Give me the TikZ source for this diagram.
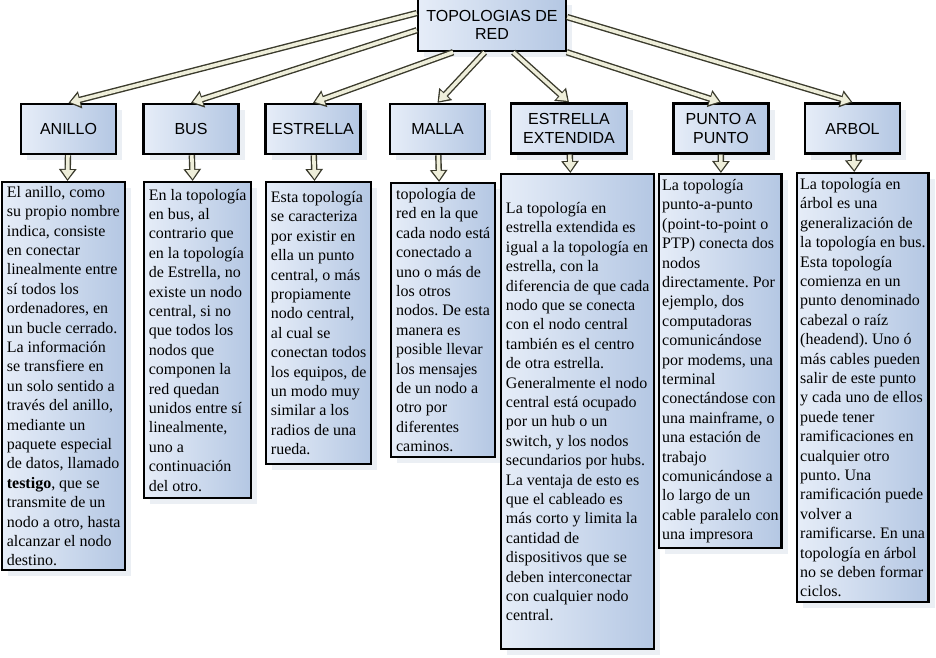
\documentclass[tikz,border=0pt]{standalone}
\usepackage{fontspec}
\setmainfont{Liberation Serif}
\setsansfont{Liberation Sans}
\usetikzlibrary{arrows.meta,shadows}

\definecolor{boxlight}{RGB}{230,237,248}
\definecolor{boxdark}{RGB}{180,199,227}
\definecolor{arrowline}{RGB}{58,58,44}
\definecolor{arrowfill}{RGB}{238,238,218}
\definecolor{shadowc}{RGB}{216,223,234}
\frenchspacing

\begin{document}
\begin{tikzpicture}[x=1pt,y=-1pt,
      box/.style={draw=black,line width=2.4pt,left color=boxlight,right color=boxdark,
            drop shadow={shadow xshift=6pt,shadow yshift=-6pt,fill=shadowc}},
      topic/.style={box,font=\sffamily\fontsize{16}{18.5}\selectfont,align=center,
            minimum width=95pt,minimum height=50pt,inner sep=2pt},
      desc/.style={box,anchor=north west,align=left,inner xsep=3pt,inner ysep=2pt,
            font=\fontsize{16}{19.4}\selectfont},
      conn/.style={line width=3.6pt,draw=arrowfill,shorten >=2pt,
            -{Triangle[length=9pt,width=12pt]},
            preaction={draw=arrowline,line width=6.4pt,shorten >=0pt,
                  -{Triangle[length=12pt,width=17pt]}}}
]
\useasboundingbox (0,0) rectangle (936,657);
\node[topic,minimum width=148pt,minimum height=52pt] (top) at (492,25) {TOPOLOGIAS DE\\RED};
\node[topic] (anillo) at (68.5,129) {ANILLO};
\node[topic] (bus) at (191,129) {BUS};
\node[topic] (estrella) at (313,129) {ESTRELLA};
\node[topic] (malla) at (437.5,129) {MALLA};
\node[topic,minimum width=116pt] (ext) at (569,128.5) {ESTRELLA\\EXTENDIDA};
\node[topic] (punto) at (721,128.5) {PUNTO A\\PUNTO};
\node[topic] (arbol) at (852.5,128.5) {ARBOL};
\node[desc,minimum width=123pt,minimum height=388pt] (d1) at (1,181) {El anillo, como\\su propio nombre\\indica, consiste\\en conectar\\linealmente entre\\sí todos los\\ordenadores, en\\un bucle cerrado.\\La información\\se transfiere en\\un solo sentido a\\través del anillo,\\mediante un\\paquete especial\\de datos, llamado\\\textbf{testigo}, que se\\transmite de un\\nodo a otro, hasta\\alcanzar el nodo\\destino.};
\node[desc,minimum width=107pt,minimum height=316pt] (d2) at (143,181) {En la topología\\en bus, al\\contrario que\\en la topología\\de Estrella, no\\existe un nodo\\central, si no\\que todos los\\nodos que\\componen la\\red quedan\\unidos entre sí\\linealmente,\\uno a\\continuación\\del otro.};
\node[desc,minimum width=105pt,minimum height=282pt] (d3) at (265,181) {Esta topología\\se caracteriza\\por existir en\\ella un punto\\central, o más\\propiamente\\nodo central,\\al cual se\\conectan todos\\los equipos, de\\un modo muy\\similar a los\\radios de una\\rueda.};
\node[desc,minimum width=104pt,minimum height=274pt] (d4) at (390,182) {topología de\\red en la que\\cada nodo está\\conectado a\\uno o más de\\los otros\\nodos. De esta\\manera es\\posible llevar\\los mensajes\\de un nodo a\\otro por\\diferentes\\caminos.};
\node[desc,minimum width=153pt,minimum height=475pt] (d5) at (500,173) {La topología en\\estrella extendida es\\igual a la topología en\\estrella, con la\\diferencia de que cada\\nodo que se conecta\\con el nodo central\\también es el centro\\de otra estrella.\\Generalmente el nodo\\central está ocupado\\por un hub o un\\switch, y los nodos\\secundarios por hubs.\\La ventaja de esto es\\que el cableado es\\más corto y limita la\\cantidad de\\dispositivos que se\\deben interconectar\\con cualquier nodo\\central.};
\node[desc,minimum width=122pt,minimum height=374pt] (d6) at (658,173) {La topología\\punto-a-punto\\(point-to-point o\\PTP) conecta dos\\nodos\\directamente. Por\\ejemplo, dos\\computadoras\\comunicándose\\por modems, una\\terminal\\conectándose con\\una mainframe, o\\una estación de\\trabajo\\comunicándose a\\lo largo de un\\cable paralelo con\\una impresora};
\node[desc,minimum width=130pt,minimum height=429pt] (d7) at (796,172) {La topología en\\árbol es una\\generalización de\\la topología en bus.\\Esta topología\\comienza en un\\punto denominado\\cabezal o raíz\\(headend). Uno ó\\más cables pueden\\salir de este punto\\y cada uno de ellos\\puede tener\\ramificaciones en\\cualquier otro\\punto. Una\\ramificación puede\\volver a\\ramificarse. En una\\topología en árbol\\no se deben formar\\ciclos.};

\foreach \ang/\head in {171/anillo,184/bus,215/estrella,255/malla,308/ext,340/punto,6/arbol} {
      \draw[conn] (top.\ang) -- (\head.north);
}
\foreach \head/\desc in {anillo/d1,bus/d2,estrella/d3,malla/d4,ext/d5,punto/d6,arbol/d7} {
      \draw[conn] (\head) -- (\desc);
}
\end{tikzpicture}
\end{document}
